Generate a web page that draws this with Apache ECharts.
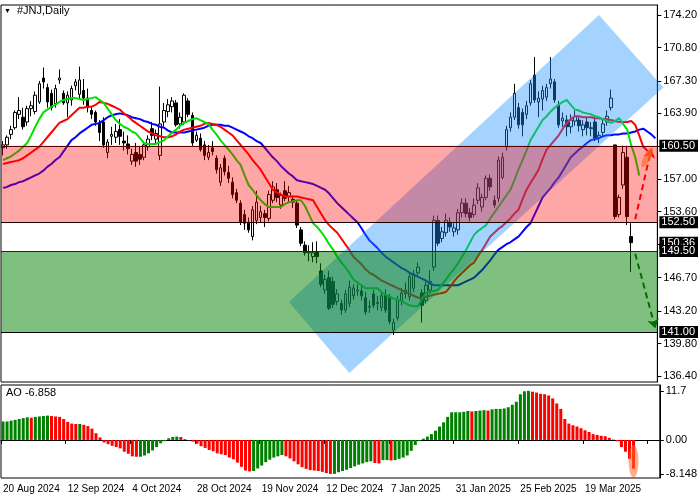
<!DOCTYPE html>
<html><head><meta charset="utf-8">
<script src="https://cdn.jsdelivr.net/npm/echarts@6/dist/echarts.min.js"></script>
<style>html,body{margin:0;padding:0;background:#fff}#c{width:700px;height:500px}</style>
</head><body><div id="c"></div>
<script>
// candles: [open, close, low, high]
const candles = [
[160.3,160.6,159.5,161.0],[160.6,161.4,160.2,161.6],[161.7,162.2,161.2,162.6],[162.4,164.0,162.2,164.2],[163.8,164.2,163.3,165.6],
[163.5,162.5,162.2,164.5],[163.0,164.4,162.6,164.7],[164.4,164.7,163.6,165.2],[164.1,165.8,163.8,166.2],[165.1,167.0,164.9,167.3],
[167.6,167.2,166.5,168.7],[166.6,165.1,164.5,167.0],[166.0,164.5,164.2,166.4],[164.9,166.5,164.5,166.9],[167.4,167.6,167.0,168.5],
[166.0,165.0,164.8,166.3],[165.0,165.8,163.5,166.2],[165.3,166.5,164.7,166.8],[166.8,167.2,166.3,167.5],[165.9,167.4,165.5,168.8],
[166.3,165.5,164.8,167.5],[165.5,164.5,164.0,166.5],[164.2,163.8,163.3,164.6],[164.0,163.0,162.6,164.2],[162.9,161.9,161.0,163.2],
[163.0,160.6,160.3,163.5],[159.8,160.9,159.2,161.2],[161.5,161.7,160.6,162.5],[161.4,162.0,160.8,162.8],[162.2,161.5,160.6,163.3],
[161.0,160.8,160.0,162.0],[160.7,160.2,159.6,161.6],[158.9,159.6,158.5,160.2],[159.8,158.9,158.3,160.8],[159.6,159.1,158.5,160.5],
[159.3,160.6,159.0,161.0],[160.4,161.2,160.0,161.6],[162.3,161.6,161.1,163.0],[161.2,161.8,160.8,162.2],[159.5,162.8,159.0,166.7],
[163.0,164.2,162.5,165.0],[164.1,164.8,163.5,165.4],[164.6,165.2,164.0,165.6],[165.0,162.7,162.5,165.3],[162.8,163.5,162.3,164.0],
[163.0,165.8,162.7,166.0],[165.2,163.8,163.5,165.5],[163.7,160.8,160.5,164.0],[161.1,161.6,160.9,162.0],[161.3,160.1,159.9,161.8],
[160.6,159.5,159.0,161.0],[159.3,159.8,159.0,160.6],[160.3,159.9,159.5,161.0],[159.2,158.0,157.6,159.5],[156.7,158.2,156.3,158.6],
[159.2,157.8,157.4,159.5],[157.7,157.1,156.6,158.4],[156.7,155.4,155.0,157.2],[155.6,154.8,154.5,156.0],[154.5,152.5,152.2,154.8],
[153.3,152.4,151.7,153.8],[152.4,151.7,151.4,153.0],[151.0,153.8,150.6,154.2],[152.7,154.6,152.3,155.8],[153.0,153.6,152.5,154.2],
[153.4,153.0,152.0,153.8],[152.9,155.4,152.6,155.8],[154.8,156.2,154.5,156.8],[155.9,155.1,154.6,156.6],[154.3,155.3,153.9,155.6],
[155.8,155.0,154.7,156.8],[155.2,155.6,154.6,156.3],[154.9,154.6,154.0,155.3],[154.5,152.2,151.9,154.8],[151.7,150.3,150.0,152.0],
[150.1,149.3,149.0,150.5],[149.3,149.4,148.4,150.1],[148.9,149.3,148.3,150.4],[149.4,148.9,148.2,150.5],[147.4,146.0,145.7,148.2],
[145.4,146.5,145.0,147.0],[146.7,143.5,143.3,147.4],[146.3,143.9,143.5,146.8],[144.2,145.0,143.8,145.5],[144.0,143.3,142.8,144.4],
[143.3,145.0,143.0,145.4],[144.0,145.7,143.6,146.4],[144.8,145.6,144.4,146.0],[145.3,145.4,144.8,146.0],[145.3,144.8,144.3,145.8],
[144.6,143.1,142.8,145.2],[143.6,143.7,143.0,144.3],[145.0,143.8,143.5,145.4],[144.0,144.1,143.3,144.8],[143.6,144.8,143.2,145.3],
[144.9,143.3,143.0,145.5],[144.6,142.1,141.8,145.0],[141.2,142.0,140.7,142.4],[142.5,144.4,142.2,144.8],[144.2,145.1,143.8,145.6],
[145.0,145.4,144.5,146.2],[144.7,146.8,144.3,147.3],[145.6,147.1,145.2,147.5],[147.2,147.8,146.8,148.3],[145.1,143.8,142.0,145.5],
[144.3,145.9,144.0,146.3],[145.4,146.3,145.0,147.5],[147.8,152.7,147.4,153.2],[152.7,150.3,150.0,153.2],[150.8,151.5,150.4,152.0],
[151.4,152.7,151.0,153.4],[152.5,152.0,151.5,153.0],[151.5,151.9,151.0,152.4],[151.7,153.5,151.2,153.9],[153.5,154.5,153.0,155.0],
[154.5,153.4,153.0,155.0],[153.5,153.0,152.6,154.0],[153.3,154.3,153.0,155.0],[154.8,156.1,154.4,156.6],[154.1,155.1,153.6,155.5],
[155.1,157.1,154.8,157.4],[157.1,156.2,155.8,157.5],[154.8,154.3,154.0,155.3],[155.0,159.0,154.6,159.4],[157.2,159.3,157.0,159.8],
[160.4,162.2,160.0,162.6],[162.4,163.5,162.0,164.0],[163.5,166.0,163.2,167.0],[164.5,162.7,162.3,165.0],[164.0,162.7,161.5,164.4],
[163.8,164.7,163.3,165.2],[165.0,167.0,164.7,167.4],[167.9,165.3,165.0,169.8],[165.1,165.5,163.5,166.2],[165.4,166.3,164.2,166.8],
[165.6,166.6,165.2,167.0],[167.0,167.5,166.5,169.8],[167.2,165.3,165.0,167.5],[164.8,162.7,162.4,165.2],[163.1,163.4,162.5,164.0],
[163.2,162.5,161.5,163.7],[162.5,163.2,161.8,163.8],[163.1,163.6,162.6,164.2],[163.2,162.6,162.0,163.6],[162.2,162.7,161.5,163.2],
[163.0,162.4,161.6,163.5],[162.3,162.4,161.5,163.0],[163.0,161.3,161.0,163.4],[161.4,161.6,160.8,162.0],[161.9,162.8,161.5,163.4],
[163.0,163.6,162.6,164.2],[164.5,165.5,164.2,166.4],[160.6,153.1,152.8,160.6],[153.3,155.1,153.0,155.4],[156.4,159.8,156.0,160.5],
[159.3,153.1,152.2,160.5],[151.0,150.36,147.3,152.4]
];
const lips = [
159.0,159.2,159.4,159.7,160.0,160.4,160.8,161.6,162.5,163.3,
164.0,164.3,164.6,164.8,165.1,165.3,165.4,165.5,165.5,165.4,
165.3,165.4,165.5,165.6,165.3,165.0,164.4,163.8,163.2,162.8,
162.5,162.3,162.0,161.8,161.3,160.8,160.7,160.7,160.7,160.9,
161.1,161.5,161.9,162.2,162.6,162.9,163.1,163.3,163.4,163.2,
163.0,162.8,162.2,161.7,161.1,160.6,160.1,159.6,159.0,158.5,
157.4,156.4,155.9,155.3,154.8,154.4,154.1,154.1,154.1,154.1,
154.4,154.6,154.7,154.8,154.8,154.2,153.3,152.4,152.0,151.5,
150.9,150.2,149.6,148.9,148.3,147.8,147.2,146.5,146.2,145.9,
145.6,145.6,145.6,145.6,145.2,144.9,144.7,144.5,144.4,144.2,
144.0,143.8,143.7,143.7,144.4,145.1,145.2,145.3,145.4,146.0,
146.5,147.1,147.6,148.2,148.9,149.6,150.4,151.2,151.6,151.9,
152.2,152.9,153.5,154.1,154.7,155.3,155.9,156.9,158.0,159.0,
160.0,161.1,161.8,162.5,163.2,163.6,164.1,164.5,164.8,165.1,
165.3,164.8,164.3,164.2,164.0,163.9,163.8,163.6,163.5,163.3,
163.1,162.9,163.1,163.4,162.8,162.2,160.6,159.3,157.4];
const teeth = [
158.6,158.7,158.8,158.9,159.0,159.2,159.5,159.8,160.1,160.4,
160.9,161.4,161.9,162.4,162.9,163.1,163.3,163.7,164.1,164.5,
164.5,164.6,164.6,164.8,165.1,165.0,164.9,164.7,164.5,164.3,
163.9,163.6,163.2,162.9,162.6,162.3,162.0,161.8,161.6,161.5,
161.4,161.4,161.5,161.7,162.0,162.2,162.3,162.4,162.5,162.6,
162.8,162.9,162.8,162.7,162.5,162.2,161.9,161.6,161.1,160.6,
160.1,159.6,159.0,158.5,158.0,157.3,156.6,155.9,155.6,155.4,
155.2,155.2,155.2,155.2,155.1,155.0,154.9,154.8,154.1,153.4,
152.7,152.2,151.8,151.4,150.8,150.2,149.6,148.9,148.5,148.1,
147.6,147.2,147.0,146.7,146.4,146.2,146.0,145.8,145.6,145.4,
145.2,145.0,144.8,144.6,144.6,144.7,144.8,144.9,145.0,145.1,
145.2,145.7,146.3,146.8,147.2,147.6,148.0,148.3,149.0,149.6,
150.3,151.0,151.4,151.8,152.1,152.5,152.9,153.4,153.8,154.9,
155.9,156.6,157.3,158.0,159.1,160.1,160.6,161.1,161.6,162.3,
162.9,163.3,163.6,163.6,163.5,163.5,163.5,163.4,163.4,163.3,
163.3,163.2,163.1,163.0,163.0,163.0,163.1,162.7,161.6,160.4,
160.0,159.7];
const jaw = [
156.1,156.2,156.4,156.5,156.7,156.8,157.0,157.2,157.4,157.6,
157.9,158.3,158.6,159.0,159.3,159.9,160.5,161.1,161.4,161.8,
162.1,162.4,162.7,162.8,162.9,163.2,163.5,163.7,163.8,163.9,
163.8,163.7,163.5,163.4,163.3,163.1,163.0,162.8,162.7,162.5,
162.4,162.1,161.9,161.9,161.9,161.9,162.0,162.1,162.2,162.3,
162.4,162.6,162.7,162.7,162.7,162.6,162.6,162.4,162.2,162.0,
161.8,161.5,161.3,161.0,160.8,160.3,159.8,159.3,158.9,158.4,
158.0,157.6,157.3,156.9,156.8,156.7,156.6,156.5,156.3,156.1,
155.9,155.5,155.0,154.5,154.1,153.7,153.3,152.9,152.5,151.9,
151.2,150.6,150.2,149.8,149.3,148.9,148.6,148.3,148.0,147.7,
147.5,147.2,147.0,146.8,146.6,146.4,146.1,145.9,145.9,145.9,
145.9,145.9,145.9,145.9,146.1,146.3,146.5,146.7,147.1,147.5,
148.0,148.5,149.1,149.6,149.9,150.2,150.4,150.7,151.0,151.5,
152.0,152.4,153.3,154.2,155.1,155.6,156.1,156.7,157.2,157.9,
158.6,159.3,159.7,160.1,160.4,160.8,161.1,161.2,161.3,161.5,
161.6,161.6,161.7,161.7,161.8,161.8,161.9,162.0,162.2,162.3,
162.0,161.7,161.3];
const ao = [
4.4,4.4,4.6,4.8,5.0,5.2,5.4,5.3,5.5,5.6,
5.7,5.8,5.7,5.6,5.5,5.0,4.3,3.9,3.8,3.8,
3.6,3.3,2.7,1.6,0.6,-0.6,-1.0,-1.4,-1.7,-2.0,
-2.8,-3.3,-3.9,-4.0,-4.0,-3.7,-3.2,-2.5,-1.7,-0.8,
-0.3,0.4,0.7,0.8,0.7,0.2,-0.1,-0.4,-0.9,-1.5,
-1.9,-2.4,-2.7,-3.2,-3.4,-3.6,-4.2,-4.6,-5.4,-6.4,
-7.3,-7.5,-7.4,-6.8,-6.1,-5.3,-4.7,-4.2,-3.9,-3.6,
-3.9,-4.4,-5.1,-5.8,-6.5,-6.9,-7.2,-7.3,-7.4,-7.6,
-7.9,-8.1,-8.1,-7.7,-7.4,-7.1,-6.7,-6.3,-5.9,-5.6,
-5.3,-5.1,-5.5,-5.6,-4.8,-4.8,-4.9,-4.8,-4.5,-4.2,
-3.7,-2.6,-1.2,-0.2,0.3,0.8,1.4,2.2,3.2,4.2,
5.5,6.6,6.6,6.6,6.7,6.9,6.8,6.9,7.0,7.1,
7.0,7.3,7.4,7.4,7.5,7.8,8.4,9.1,10.9,11.6,
11.7,11.5,11.3,11.0,10.9,10.6,9.9,8.7,7.4,5.0,
3.9,3.5,3.2,2.8,2.3,1.9,1.4,1.2,1.0,0.9,
0.5,0.1,-0.3,-1.7,-2.8,-4.5,-6.858];
const tickLabels = ['20 Aug 2024','12 Sep 2024','4 Oct 2024','28 Oct 2024','19 Nov 2024','12 Dec 2024','7 Jan 2025','31 Jan 2025','25 Feb 2025','19 Mar 2025'];
const priceTicks = [136.4,139.8,143.2,146.7,150.2,153.6,157.0,160.5,163.9,167.3,170.8,174.2];
const levels = [160.5,152.5,149.5,141.0];
const lastPrice = 150.36;
const zoneSell = [152.5,160.5];
const zoneBuy = [141.0,149.5];
const channel = [[70.8,144.15],[147.8,174.2],[163.5,166.6],[85.9,136.7]];
const arrowUp = [[156.5,152.8],[161,160.2]];
const arrowDown = [[157,149.2],[162,141.4]];
const aoTicks = [-8.148,0,11.7];
const nCats = 163;

const cats = Array.from({length:nCats},(_,i)=>String(i));
const font = 'Liberation Sans';
const labelBox = {backgroundColor:'#000',color:'#fff',fontFamily:font,fontSize:11,padding:[1,3,0,2],position:'end',distance:2};
const chart = echarts.init(document.getElementById('c'));
chart.setOption({
  animation:false,
  textStyle:{fontFamily:font},
  grid:[{left:1,right:40,top:5,height:377,show:true,borderColor:'#000',borderWidth:1},
        {left:1,right:40,top:385,height:93,show:true,borderColor:'#000',borderWidth:1}],
  xAxis:[
    {type:'category',gridIndex:0,data:cats,boundaryGap:true,axisLine:{show:false},axisTick:{show:false},axisLabel:{show:false},splitLine:{show:false}},
    {type:'category',gridIndex:1,data:cats,boundaryGap:true,axisLine:{lineStyle:{color:'#000'}},
     axisTick:{show:true,interval:15,length:4,lineStyle:{color:'#000'}},
     axisLabel:{interval:15,align:'left',color:'#000',fontSize:10,margin:6,formatter:(v,i)=>tickLabels[Math.round(i/16)]||''}}
  ],
  yAxis:[
    {type:'value',gridIndex:0,position:'right',min:135.77,max:175.25,splitLine:{show:false},z:1,
     axisLine:{show:true,lineStyle:{color:'#000'}},axisTick:{show:true,length:4,customValues:priceTicks,lineStyle:{color:'#000'}},
     axisLabel:{customValues:priceTicks,color:'#000',fontSize:11,margin:6,formatter:v=>v.toFixed(2)}},
    {type:'value',gridIndex:1,position:'right',min:-9.07,max:13.1,splitLine:{show:false},
     axisLine:{show:true,lineStyle:{color:'#000'}},axisTick:{show:true,length:4,customValues:aoTicks,lineStyle:{color:'#000'}},
     axisLabel:{customValues:aoTicks,color:'#000',fontSize:11,margin:6,formatter:v=>v===0?'0.00':String(v)}}
  ],
  graphic:[
    {type:'text',left:4,top:8,style:{text:'▼',fontSize:7,fill:'#000'}},
    {type:'text',left:17,top:5,style:{text:'#JNJ,Daily',fontSize:11,fill:'#000',fontFamily:font}},
    {type:'text',left:6,top:387,style:{text:'AO -6.858',fontSize:11,fill:'#000',fontFamily:font}}
  ],
  series:[
    {type:'candlestick',xAxisIndex:0,yAxisIndex:0,data:candles,barWidth:3,z:2,
     itemStyle:{color:'#fff',color0:'#000',borderColor:'#000',borderColor0:'#000',borderWidth:1}},
    {type:'line',data:jaw,symbol:'none',z:3,lineStyle:{color:'#0000ff',width:2}},
    {type:'line',data:teeth,symbol:'none',z:3,lineStyle:{color:'#ff0000',width:2}},
    {type:'line',data:lips,symbol:'none',z:3,lineStyle:{color:'#00e000',width:2}},
    {type:'custom',z:4,silent:true,data:[[0]],renderItem:(p,api)=>({type:'polygon',
      shape:{points:channel.map(c=>api.coord(c))},style:{fill:'rgba(30,144,255,0.4)'}})},
    {type:'line',data:[],z:5,silent:true,
     markArea:{silent:true,z:10,data:[
       [{yAxis:zoneSell[0],itemStyle:{color:'rgba(255,0,0,0.35)'}},{yAxis:zoneSell[1]}],
       [{yAxis:zoneBuy[0],itemStyle:{color:'rgba(0,128,0,0.5)'}},{yAxis:zoneBuy[1]}]
     ]}},
    {type:'line',data:[],z:20,zlevel:1,silent:true,
     markLine:{silent:true,symbol:'none',animation:false,
       data:[
        {yAxis:lastPrice,lineStyle:{color:'rgba(0,0,0,0)',width:0},label:{...labelBox,formatter:lastPrice.toFixed(2)}},
        ...levels.map(v=>({yAxis:v,lineStyle:{color:'#000',width:1,type:'solid'},label:{...labelBox,formatter:v.toFixed(2)}}))
       ]}},
    {type:'line',data:[],z:8,silent:true,
     markLine:{silent:true,z:12,symbol:['none','arrow'],symbolSize:9,label:{show:false},
       data:[
        [{coord:arrowUp[0],lineStyle:{color:'#ff0000',width:2,type:[6,4]}},{coord:arrowUp[1]}],
        [{coord:arrowDown[0],lineStyle:{color:'#007000',width:2,type:[6,4]}},{coord:arrowDown[1]}]
       ]},
     markPoint:{silent:true,z:12,data:[{coord:[159.5,159.3],symbol:'circle',symbolSize:[7,22],symbolRotate:-28,itemStyle:{color:'rgba(255,110,40,0.7)'},label:{show:false}}]}},
    {type:'bar',xAxisIndex:1,yAxisIndex:1,data:ao,barWidth:3,
     itemStyle:{color:p=>(p.dataIndex>0&&ao[p.dataIndex]<ao[p.dataIndex-1])?'#ff0000':'#008000'},
     markPoint:{silent:true,data:[{coord:['156',-5.1],symbol:'circle',symbolSize:[10,32],itemStyle:{color:'rgba(255,110,40,0.55)'},label:{show:false}}]}}
  ]
});
</script></body></html>
